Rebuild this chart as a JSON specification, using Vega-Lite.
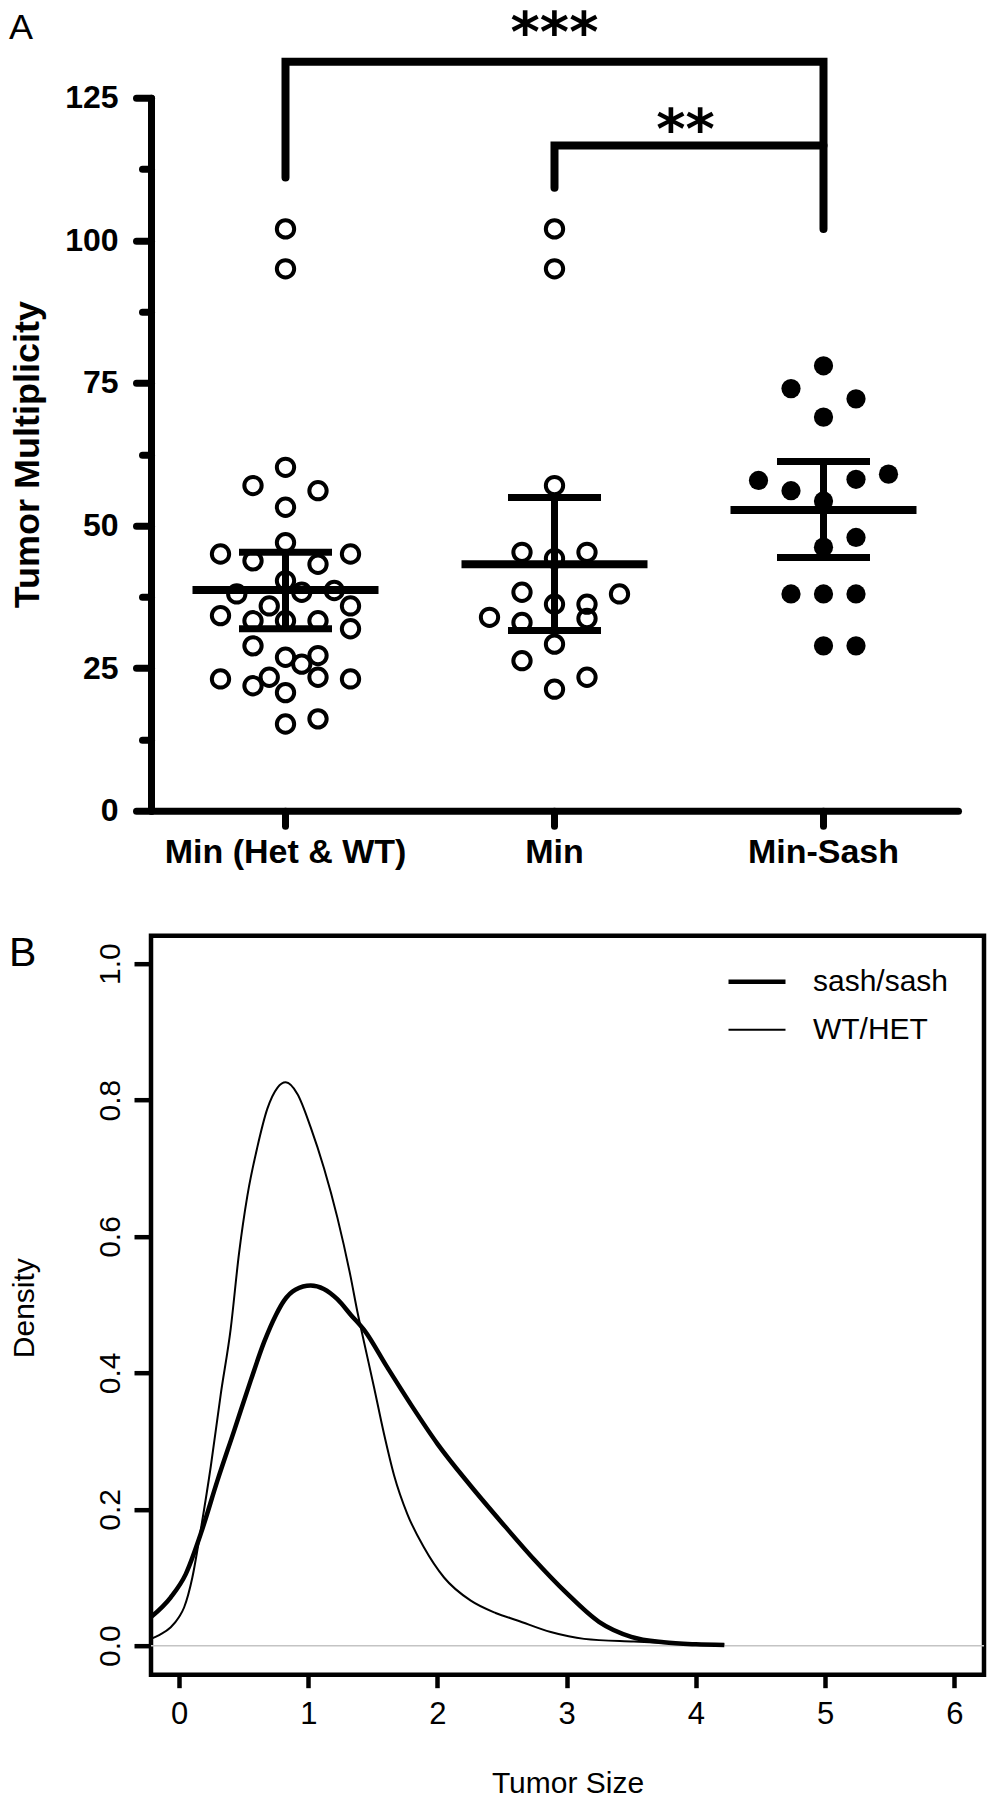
{
  "$schema": "https://vega.github.io/schema/vega-lite/v6.json",
  "background": "white",
  "padding": {"left": 6, "top": 5.7, "right": 5, "bottom": 2},
  "bounds": "flush",
  "spacing": 125,
  "resolve": {"legend": {"strokeWidth": "independent"}},
  "config": {"view": {"stroke": null}, "font": "Liberation Sans", "axis": {"labelColor": "black", "titleColor": "black", "grid": false}},
  "datasets": {
    "points": [
      {"group": "Min (Het & WT)", "count": 102, "slot": 0},
      {"group": "Min (Het & WT)", "count": 95, "slot": 0},
      {"group": "Min (Het & WT)", "count": 60.2, "slot": 0},
      {"group": "Min (Het & WT)", "count": 57, "slot": -2},
      {"group": "Min (Het & WT)", "count": 56.1, "slot": 2},
      {"group": "Min (Het & WT)", "count": 53.2, "slot": 0},
      {"group": "Min (Het & WT)", "count": 47, "slot": 0},
      {"group": "Min (Het & WT)", "count": 45, "slot": -4},
      {"group": "Min (Het & WT)", "count": 45, "slot": 4},
      {"group": "Min (Het & WT)", "count": 43.8, "slot": -2},
      {"group": "Min (Het & WT)", "count": 43.2, "slot": 2},
      {"group": "Min (Het & WT)", "count": 40.3, "slot": 0},
      {"group": "Min (Het & WT)", "count": 38, "slot": -3},
      {"group": "Min (Het & WT)", "count": 38.3, "slot": 1},
      {"group": "Min (Het & WT)", "count": 38.6, "slot": 3},
      {"group": "Min (Het & WT)", "count": 35.9, "slot": -1},
      {"group": "Min (Het & WT)", "count": 35.9, "slot": 4},
      {"group": "Min (Het & WT)", "count": 34.2, "slot": -4},
      {"group": "Min (Het & WT)", "count": 33.3, "slot": -2},
      {"group": "Min (Het & WT)", "count": 33.3, "slot": 0},
      {"group": "Min (Het & WT)", "count": 33.3, "slot": 2},
      {"group": "Min (Het & WT)", "count": 31.9, "slot": 4},
      {"group": "Min (Het & WT)", "count": 28.9, "slot": -2},
      {"group": "Min (Het & WT)", "count": 26.9, "slot": 0},
      {"group": "Min (Het & WT)", "count": 27.2, "slot": 2},
      {"group": "Min (Het & WT)", "count": 25.7, "slot": 1},
      {"group": "Min (Het & WT)", "count": 23.1, "slot": -4},
      {"group": "Min (Het & WT)", "count": 23.1, "slot": 4},
      {"group": "Min (Het & WT)", "count": 23.4, "slot": 2},
      {"group": "Min (Het & WT)", "count": 23.4, "slot": -1},
      {"group": "Min (Het & WT)", "count": 21.9, "slot": -2},
      {"group": "Min (Het & WT)", "count": 20.7, "slot": 0},
      {"group": "Min (Het & WT)", "count": 15.2, "slot": 0},
      {"group": "Min (Het & WT)", "count": 16.1, "slot": 2},
      {"group": "Min", "count": 102, "slot": 0},
      {"group": "Min", "count": 95, "slot": 0},
      {"group": "Min", "count": 57, "slot": 0},
      {"group": "Min", "count": 45.3, "slot": -2},
      {"group": "Min", "count": 44.2, "slot": 0},
      {"group": "Min", "count": 45.3, "slot": 2},
      {"group": "Min", "count": 38.3, "slot": -2},
      {"group": "Min", "count": 38, "slot": 4},
      {"group": "Min", "count": 36.2, "slot": 0},
      {"group": "Min", "count": 36.2, "slot": 2},
      {"group": "Min", "count": 33.9, "slot": -4},
      {"group": "Min", "count": 33, "slot": -2},
      {"group": "Min", "count": 33.7, "slot": 2},
      {"group": "Min", "count": 29.2, "slot": 0},
      {"group": "Min", "count": 26.3, "slot": -2},
      {"group": "Min", "count": 23.4, "slot": 2},
      {"group": "Min", "count": 21.3, "slot": 0},
      {"group": "Min-Sash", "count": 78, "slot": 0},
      {"group": "Min-Sash", "count": 74, "slot": -2},
      {"group": "Min-Sash", "count": 72.2, "slot": 2},
      {"group": "Min-Sash", "count": 69, "slot": 0},
      {"group": "Min-Sash", "count": 57.9, "slot": -4},
      {"group": "Min-Sash", "count": 56.1, "slot": -2},
      {"group": "Min-Sash", "count": 58.1, "slot": 2},
      {"group": "Min-Sash", "count": 59, "slot": 4},
      {"group": "Min-Sash", "count": 54.3, "slot": 0},
      {"group": "Min-Sash", "count": 47.9, "slot": 2},
      {"group": "Min-Sash", "count": 46.2, "slot": 0},
      {"group": "Min-Sash", "count": 38, "slot": -2},
      {"group": "Min-Sash", "count": 38, "slot": 0},
      {"group": "Min-Sash", "count": 38, "slot": 2},
      {"group": "Min-Sash", "count": 28.9, "slot": 0},
      {"group": "Min-Sash", "count": 28.9, "slot": 2}
    ],
    "summary": [
      {"group": "Min (Het & WT)", "mean": 38.7, "lo": 31.9, "hi": 45.3},
      {"group": "Min", "mean": 43.2, "lo": 31.6, "hi": 54.9},
      {"group": "Min-Sash", "mean": 52.7, "lo": 44.4, "hi": 61.2}
    ],
    "brackets": [
      {"b": "p3", "group": "Min (Het & WT)", "v": 111, "o": 1},
      {"b": "p3", "group": "Min (Het & WT)", "v": 131.3, "o": 2},
      {"b": "p3", "group": "Min-Sash", "v": 131.3, "o": 3},
      {"b": "p3", "group": "Min-Sash", "v": 102, "o": 4},
      {"b": "p2", "group": "Min", "v": 109.2, "o": 1},
      {"b": "p2", "group": "Min", "v": 116.6, "o": 2},
      {"b": "p2", "group": "Min-Sash", "v": 116.6, "o": 3}
    ],
    "density": [
      {"genotype": "WT/HET", "size": -0.217, "density": 0.010},
      {"genotype": "WT/HET", "size": -0.15, "density": 0.016},
      {"genotype": "WT/HET", "size": -0.064, "density": 0.027},
      {"genotype": "WT/HET", "size": 0.0, "density": 0.042},
      {"genotype": "WT/HET", "size": 0.039, "density": 0.056},
      {"genotype": "WT/HET", "size": 0.103, "density": 0.100},
      {"genotype": "WT/HET", "size": 0.168, "density": 0.170},
      {"genotype": "WT/HET", "size": 0.245, "density": 0.262},
      {"genotype": "WT/HET", "size": 0.323, "density": 0.369},
      {"genotype": "WT/HET", "size": 0.40, "density": 0.465},
      {"genotype": "WT/HET", "size": 0.464, "density": 0.575},
      {"genotype": "WT/HET", "size": 0.529, "density": 0.660},
      {"genotype": "WT/HET", "size": 0.606, "density": 0.731},
      {"genotype": "WT/HET", "size": 0.683, "density": 0.787},
      {"genotype": "WT/HET", "size": 0.761, "density": 0.818},
      {"genotype": "WT/HET", "size": 0.826, "density": 0.826},
      {"genotype": "WT/HET", "size": 0.916, "density": 0.809},
      {"genotype": "WT/HET", "size": 1.019, "density": 0.760},
      {"genotype": "WT/HET", "size": 1.122, "density": 0.700},
      {"genotype": "WT/HET", "size": 1.225, "density": 0.628},
      {"genotype": "WT/HET", "size": 1.329, "density": 0.540},
      {"genotype": "WT/HET", "size": 1.38, "density": 0.490},
      {"genotype": "WT/HET", "size": 1.432, "density": 0.445},
      {"genotype": "WT/HET", "size": 1.509, "density": 0.379},
      {"genotype": "WT/HET", "size": 1.587, "density": 0.310},
      {"genotype": "WT/HET", "size": 1.664, "density": 0.250},
      {"genotype": "WT/HET", "size": 1.767, "density": 0.193},
      {"genotype": "WT/HET", "size": 1.896, "density": 0.144},
      {"genotype": "WT/HET", "size": 2.051, "density": 0.100},
      {"genotype": "WT/HET", "size": 2.258, "density": 0.066},
      {"genotype": "WT/HET", "size": 2.45, "density": 0.048},
      {"genotype": "WT/HET", "size": 2.619, "density": 0.037},
      {"genotype": "WT/HET", "size": 2.877, "density": 0.020},
      {"genotype": "WT/HET", "size": 3.135, "density": 0.010},
      {"genotype": "WT/HET", "size": 3.52, "density": 0.006},
      {"genotype": "WT/HET", "size": 3.91, "density": 0.003},
      {"genotype": "WT/HET", "size": 4.22, "density": 0.002},
      {"genotype": "sash/sash", "size": -0.217, "density": 0.042},
      {"genotype": "sash/sash", "size": -0.064, "density": 0.071},
      {"genotype": "sash/sash", "size": 0.052, "density": 0.105},
      {"genotype": "sash/sash", "size": 0.168, "density": 0.164},
      {"genotype": "sash/sash", "size": 0.297, "density": 0.242},
      {"genotype": "sash/sash", "size": 0.426, "density": 0.315},
      {"genotype": "sash/sash", "size": 0.555, "density": 0.389},
      {"genotype": "sash/sash", "size": 0.658, "density": 0.445},
      {"genotype": "sash/sash", "size": 0.75, "density": 0.485},
      {"genotype": "sash/sash", "size": 0.813, "density": 0.506},
      {"genotype": "sash/sash", "size": 0.90, "density": 0.522},
      {"genotype": "sash/sash", "size": 1.019, "density": 0.528},
      {"genotype": "sash/sash", "size": 1.12, "density": 0.523},
      {"genotype": "sash/sash", "size": 1.225, "density": 0.508},
      {"genotype": "sash/sash", "size": 1.33, "density": 0.485},
      {"genotype": "sash/sash", "size": 1.432, "density": 0.463},
      {"genotype": "sash/sash", "size": 1.612, "density": 0.408},
      {"genotype": "sash/sash", "size": 1.80, "density": 0.352},
      {"genotype": "sash/sash", "size": 2.0, "density": 0.296},
      {"genotype": "sash/sash", "size": 2.25, "density": 0.236},
      {"genotype": "sash/sash", "size": 2.5, "density": 0.180},
      {"genotype": "sash/sash", "size": 2.75, "density": 0.126},
      {"genotype": "sash/sash", "size": 3.0, "density": 0.077},
      {"genotype": "sash/sash", "size": 3.25, "density": 0.035},
      {"genotype": "sash/sash", "size": 3.5, "density": 0.013},
      {"genotype": "sash/sash", "size": 3.75, "density": 0.005},
      {"genotype": "sash/sash", "size": 4.0, "density": 0.002},
      {"genotype": "sash/sash", "size": 4.22, "density": 0.001}
    ]
  },
  "vconcat": [
    {
      "width": 807,
      "height": 713,
      "title": {"text": "A", "orient": "top", "anchor": "start", "frame": "bounds", "font": "Liberation Sans", "fontSize": 36, "fontWeight": "normal", "color": "black", "baseline": "alphabetic", "offset": 0, "dy": 68.6, "dx": 0},
      "encoding": {
        "x": {
          "field": "group", "type": "nominal", "sort": ["Min (Het & WT)", "Min", "Min-Sash"],
          "scale": {"type": "band", "domain": ["Min (Het & WT)", "Min", "Min-Sash"], "paddingInner": 0, "paddingOuter": 0},
          "axis": {"title": null, "labelAngle": 0, "labelFont": "Liberation Sans", "labelFontWeight": "bold", "labelFontSize": 34, "labelColor": "black", "labelBaseline": "alphabetic", "labelPadding": 36.7, "labelLimit": 0, "labelOverlap": false, "tickSize": 15, "tickWidth": 7, "tickColor": "black", "tickCap": "round", "domainWidth": 7, "domainColor": "black", "domainCap": "round", "grid": false}
        }
      },
      "layer": [
        {
          "data": {"name": "points"},
          "transform": [{"filter": "datum.group !== 'Min-Sash'"}],
          "mark": {"type": "point", "shape": "circle", "filled": false, "stroke": "black", "strokeWidth": 4, "size": 300, "opacity": 1},
          "encoding": {
            "xOffset": {"field": "slot", "type": "quantitative", "scale": {"domain": [-4, 4], "range": [69.5, 199.5]}},
            "y": {
              "field": "count", "type": "quantitative",
              "scale": {"domain": [0, 125], "nice": false},
              "axis": {
                "title": "Tumor Multiplicity", "titleFont": "Liberation Sans", "titleFontWeight": "bold", "titleFontSize": 36, "titleColor": "black", "titleAngle": 270, "titleAlign": "center", "titleBaseline": "alphabetic", "titleX": -113, "titleY": 356.5,
                "values": [0, 12.5, 25, 37.5, 50, 62.5, 75, 87.5, 100, 112.5, 125],
                "labelExpr": "datum.value % 25 === 0 ? datum.label : ''",
                "labelFont": "Liberation Sans", "labelFontWeight": "bold", "labelFontSize": 32, "labelColor": "black", "labelPadding": 18, "labelBaseline": "middle",
                "tickSize": {"condition": {"test": "datum.value % 25 === 0", "value": 15}, "value": 9},
                "tickWidth": 7, "tickColor": "black", "tickCap": "round",
                "domainWidth": 7, "domainColor": "black", "domainCap": "round", "grid": false
              }
            }
          }
        },
        {
          "data": {"name": "points"},
          "transform": [{"filter": "datum.group === 'Min-Sash'"}],
          "mark": {"type": "point", "shape": "circle", "filled": true, "fill": "black", "strokeWidth": 0, "size": 370, "opacity": 1},
          "encoding": {
            "xOffset": {"field": "slot", "type": "quantitative", "scale": {"domain": [-4, 4], "range": [69.5, 199.5]}},
            "y": {"field": "count", "type": "quantitative", "scale": {"domain": [0, 125], "nice": false}}
          }
        },
        {
          "data": {"name": "summary"},
          "mark": {"type": "rule", "color": "black", "strokeWidth": 7},
          "encoding": {
            "y": {"field": "lo", "type": "quantitative", "scale": {"domain": [0, 125], "nice": false}},
            "y2": {"field": "hi"}
          }
        },
        {
          "data": {"name": "summary"},
          "mark": {"type": "tick", "color": "black", "size": 93, "thickness": 7, "opacity": 1},
          "encoding": {"y": {"field": "hi", "type": "quantitative", "scale": {"domain": [0, 125], "nice": false}}}
        },
        {
          "data": {"name": "summary"},
          "mark": {"type": "tick", "color": "black", "size": 93, "thickness": 7, "opacity": 1},
          "encoding": {"y": {"field": "lo", "type": "quantitative", "scale": {"domain": [0, 125], "nice": false}}}
        },
        {
          "data": {"name": "summary"},
          "mark": {"type": "tick", "color": "black", "size": 186, "thickness": 8, "opacity": 1},
          "encoding": {"y": {"field": "mean", "type": "quantitative", "scale": {"domain": [0, 125], "nice": false}}}
        },
        {
          "data": {"name": "brackets"},
          "mark": {"type": "line", "color": "black", "strokeWidth": 8, "strokeCap": "round", "strokeJoin": "miter"},
          "encoding": {
            "y": {"field": "v", "type": "quantitative", "scale": {"domain": [0, 125], "nice": false}},
            "detail": {"field": "b"},
            "order": {"field": "o", "type": "quantitative"}
          }
        },
        {
          "data": {"values": [{"group": "Min", "v": 133.15, "label": "***"}]},
          "mark": {"type": "text", "font": "DejaVu Sans", "fontWeight": "bold", "fontSize": 56, "color": "black", "align": "center", "baseline": "alphabetic"},
          "encoding": {
            "y": {"field": "v", "type": "quantitative", "scale": {"domain": [0, 125], "nice": false}},
            "text": {"field": "label"}
          }
        },
        {
          "data": {"values": [{"group": "Min", "v": 116.15, "label": "**"}]},
          "mark": {"type": "text", "font": "DejaVu Sans", "fontWeight": "bold", "fontSize": 56, "color": "black", "align": "center", "baseline": "alphabetic", "dx": 131},
          "encoding": {
            "y": {"field": "v", "type": "quantitative", "scale": {"domain": [0, 125], "nice": false}},
            "text": {"field": "label"}
          }
        }
      ]
    },
    {
      "width": 833,
      "height": 739,
      "view": {"stroke": "black", "strokeWidth": 4.5},
      "title": {"text": "B", "orient": "top", "anchor": "start", "frame": "bounds", "font": "Liberation Sans", "fontSize": 41, "fontWeight": "normal", "color": "black", "baseline": "alphabetic", "offset": 0, "dy": 71.5, "dx": 0},
      "layer": [
        {
          "data": {"values": [{}]},
          "mark": {"type": "rule", "color": "#c4c4c4", "strokeWidth": 1.5},
          "encoding": {"y": {"datum": 0, "type": "quantitative", "scale": {"domain": [-0.0425, 1.041], "nice": false, "zero": false}}}
        },
        {
          "data": {"name": "density"},
          "mark": {"type": "line", "color": "black", "interpolate": "monotone"},
          "encoding": {
            "x": {
              "field": "size", "type": "quantitative",
              "scale": {"domain": [-0.217, 6.23], "nice": false, "zero": false},
              "axis": {"title": "Tumor Size", "titleFont": "Liberation Sans", "titleFontWeight": "normal", "titleFontSize": 30, "titleColor": "black", "titleBaseline": "alphabetic", "titleY": 118,
                "values": [0, 1, 2, 3, 4, 5, 6], "labelFont": "Liberation Sans", "labelFontSize": 31, "labelColor": "black", "labelBaseline": "alphabetic", "labelPadding": 36,
                "tickSize": 13, "tickWidth": 4.5, "tickColor": "black", "domain": false, "grid": false}
            },
            "y": {
              "field": "density", "type": "quantitative",
              "scale": {"domain": [-0.0425, 1.041], "nice": false, "zero": false},
              "axis": {"title": "Density", "titleFont": "Liberation Sans", "titleFontWeight": "normal", "titleFontSize": 30, "titleColor": "black", "titleAngle": 270, "titleAlign": "center", "titleBaseline": "alphabetic", "titleX": -118, "titleY": 372,
                "values": [0, 0.2, 0.4, 0.6, 0.8, 1.0], "format": ".1f", "labelFont": "Liberation Sans", "labelFontSize": 30, "labelColor": "black", "labelAngle": 270, "labelAlign": "center", "labelBaseline": "alphabetic", "labelPadding": 15,
                "tickSize": 17, "tickWidth": 4.5, "tickColor": "black", "domain": false, "grid": false}
            },
            "strokeWidth": {
              "field": "genotype", "type": "nominal",
              "scale": {"domain": ["sash/sash", "WT/HET"], "range": [4.5, 2]},
              "legend": {"title": null, "orient": "none", "legendX": 575, "legendY": 23, "symbolType": "stroke", "symbolSize": 3249, "symbolStrokeColor": "black", "labelFont": "Liberation Sans", "labelFontSize": 30, "labelColor": "black", "labelOffset": 25, "padding": 0, "clipHeight": 46, "rowPadding": 2}
            }
          }
        }
      ]
    }
  ]
}
